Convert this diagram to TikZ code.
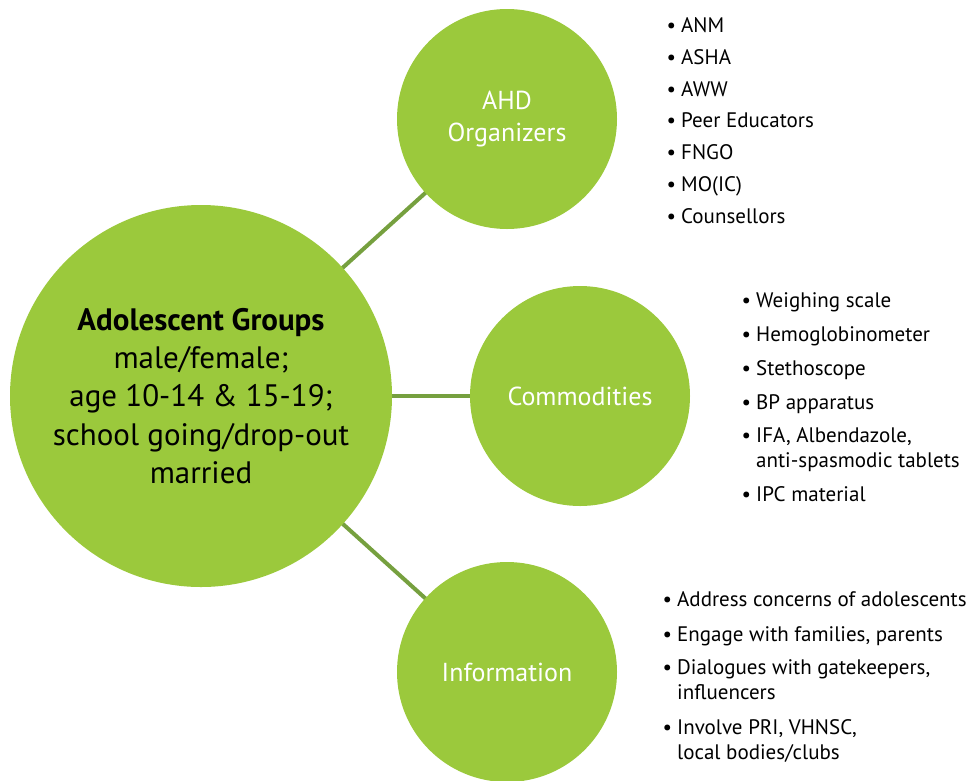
\documentclass[tikz,border=0pt]{standalone}
\usepackage{fontspec}
\setmainfont{PT Sans}
\usetikzlibrary{backgrounds}
\definecolor{cgreen}{HTML}{9BC93C}
\definecolor{lgreen}{HTML}{76A03F}
\begin{document}
\begin{tikzpicture}[x=1pt,y=-1pt,
 hub/.style={circle,fill=cgreen,minimum size=382pt,inner sep=0pt,align=center,font=\fontsize{31}{38.3}\selectfont},
 spoke/.style={circle,fill=cgreen,minimum size=220pt,inner sep=0pt,align=center,text=white,font=\fontsize{26}{32}\selectfont},
 link/.style={draw=lgreen,line width=4pt},
 item/.style={anchor=base west,align=left,inner sep=0pt,font=\fontsize{21}{25}\selectfont}]
\useasboundingbox (0,0) rectangle (968,780);
\node[hub] (hub) at (201,396) {\textbf{Adolescent Groups}\\male/female;\\age 10-14 \& 15-19;\\school going/drop-out\\married};
\node[spoke] (ahd) at (507,119) {AHD\\Organizers};
\node[spoke] (com) at (580,396) {Commodities};
\node[spoke] (inf) at (507,672) {Information};
\begin{scope}[on background layer]
\draw[link] (hub.center) -- (ahd.center);
\draw[link] (hub.center) -- (com.center);
\draw[link] (hub.center) -- (inf.center);
\end{scope}
\foreach \n/\y/\t in {o1/32/ANM,o2/64/ASHA,o3/96/AWW,o4/127/Peer Educators,o5/159/FNGO,o6/191/MO(IC),o7/223/Counsellors}
  \node[item] (\n) at (681,\y) {\llap{•\hspace{5pt}}\t};
\foreach \n/\y/\t in {c1/307/Weighing scale,c2/341/Hemoglobinometer,c3/375/Stethoscope,c4/409/BP apparatus,c5/467/{IFA, Albendazole,\\anti-spasmodic tablets},c6/501/IPC material}
  \node[item] (\n) at (756,\y) {\llap{•\hspace{5pt}}\t};
\foreach \n/\y/\t in {i1/606/Address concerns of adolescents,i2/641/{Engage with families, parents},i3/699/{Dialogues with gatekeepers,\\influencers},i4/759/{Involve PRI, VHNSC,\\local bodies/clubs}}
  \node[item] (\n) at (677,\y) {\llap{•\hspace{5pt}}\t};
\end{tikzpicture}
\end{document}
